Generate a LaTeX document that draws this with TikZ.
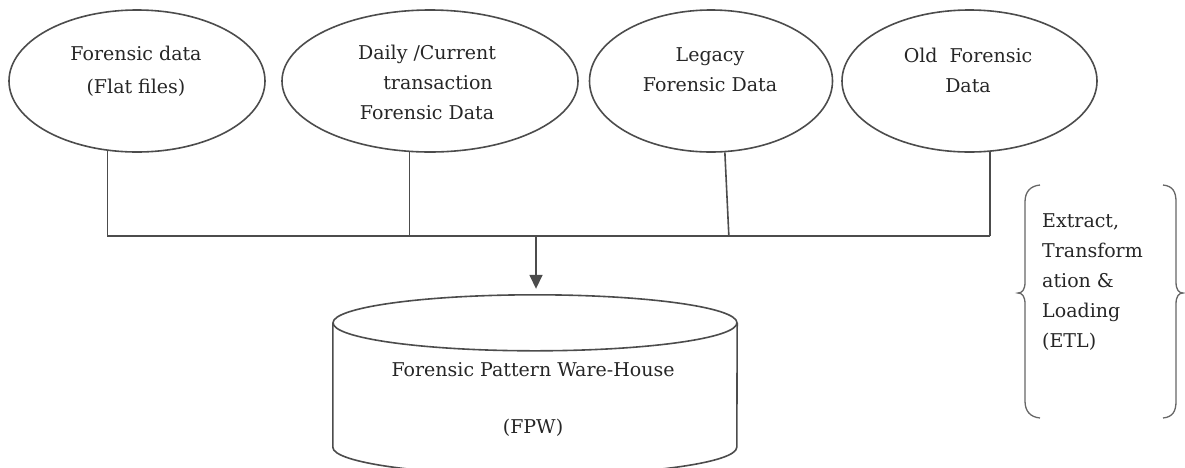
\documentclass[tikz,border=0pt]{standalone}
\usepackage{fontspec}
\setmainfont{DejaVu Serif}
\usetikzlibrary{shapes.geometric,arrows.meta}
\begin{document}
\begin{tikzpicture}[x=1pt,y=-1pt,
  ln/.style={line width=1.6pt, draw=black!70},
  bracestyle/.style={line width=1.3pt, draw=black!60},
  src/.style={ellipse, ln, minimum height=142pt, inner sep=0pt},
  txt/.style={inner sep=0pt, align=center, text=black!85, font=\fontsize{19}{30}\selectfont},
]
\useasboundingbox (0,0) rectangle (1185,467);

% source ellipses
\node[src, minimum width=256pt] (e1) at (137,81) {};
\node[src, minimum width=296pt] (e2) at (430,81) {};
\node[src, minimum width=243pt] (e3) at (711,81) {};
\node[src, minimum width=255pt] (e4) at (969.5,81) {};

\node[txt] (t1) at (136,71.5) {Forensic data\\[3pt](Flat files)};
\node[txt] (t2) at (427,82.5) {Daily /Current\\\hspace*{22pt}transaction\\Forensic Data};
\node[txt] (t3) at (710,70) {Legacy\\Forensic Data};
\node[txt] (t4) at (968,70) {Old\ \ Forensic\\Data};

% bus
\coordinate (bus) at (536,236);
\draw[ln] (e1.247) -- (e1.247 |- bus);
\draw[ln] (e2.254) -- (e2.254 |- bus);
\draw[ln] (e3.281) -- ([xshift=4pt]e3.281 |- bus);
\draw[ln] (e4.286) -- (e4.286 |- bus);
\draw[ln] (e1.247 |- bus) -- (e4.286 |- bus);

% cylinder
\node[minimum width=404pt, minimum height=124pt, inner sep=0pt] (cyl) at (535,385) {};
\coordinate (ctop) at ([yshift=28pt]cyl.north);
\draw[ln] (cyl.north) ellipse [x radius=202pt, y radius=28pt];
\draw[ln] (cyl.north west) -- (cyl.south west)
  arc[start angle=180, end angle=360, x radius=202pt, y radius=28pt] -- (cyl.north east);
\node[txt] (t5) at (533,370) {Forensic Pattern Ware-House};
\node[txt] (t6) at (533,428) {(FPW)};

% arrow
\draw[ln, -{Triangle[length=14pt,width=13pt]}, shorten >=6pt] (bus) -- (bus |- ctop);

% ETL brace
\draw[bracestyle] (1040,185) .. controls (1030,186) and (1025,192) .. (1025,202) -- (1025,282)
  .. controls (1025,290) and (1022,293) .. (1018,293)
  .. controls (1022,293) and (1025,296) .. (1025,304) -- (1025,401)
  .. controls (1025,411) and (1030,417) .. (1040,418);
\draw[bracestyle] (1163,185) .. controls (1173,186) and (1176,192) .. (1176,202) -- (1176,282)
  .. controls (1176,290) and (1179,293) .. (1183,293)
  .. controls (1179,293) and (1176,296) .. (1176,304) -- (1176,401)
  .. controls (1176,411) and (1173,417) .. (1163,418);
\node[txt, align=left, anchor=west] (etl) at (1042,282) {Extract,\\Transform\\ation \&\\Loading\\(ETL)};
\end{tikzpicture}
\end{document}
